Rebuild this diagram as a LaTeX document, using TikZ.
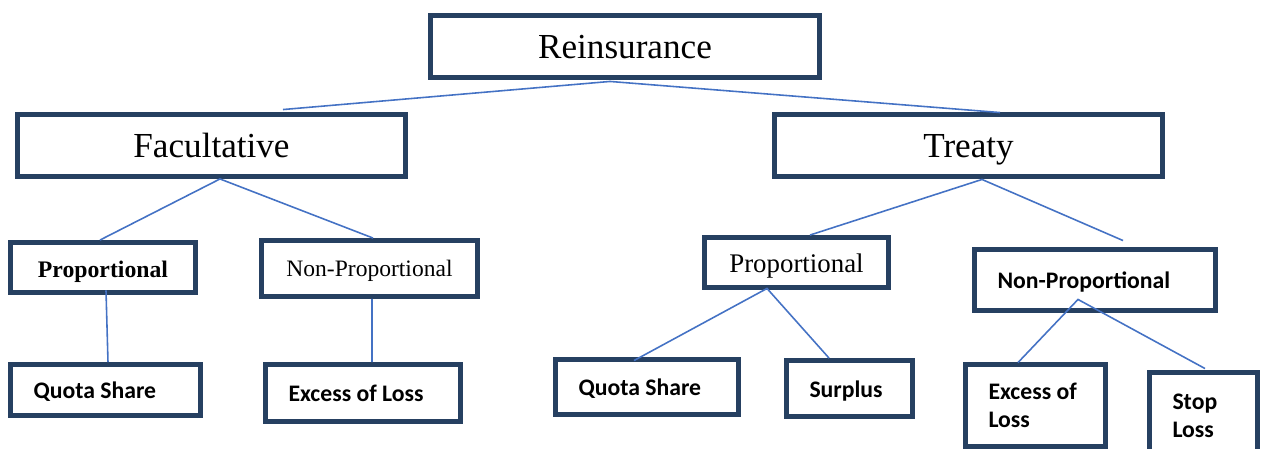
\documentclass[tikz,border=0pt]{standalone}
\usepackage{fontspec}
\setmainfont{Liberation Serif}
\newfontfamily\cajafont{Carlito}
\usetikzlibrary{calc}
\definecolor{borde}{RGB}{38,64,97}
\definecolor{rama}{RGB}{68,114,196}

\begin{document}
\begin{tikzpicture}[x=0.02cm, y=-0.02cm,
    caja/.style={draw=borde, line width=2.8pt, fill=white, inner sep=0pt},
    titulo/.style={font=\fontsize{20}{24}\selectfont, text height=13.7pt, text depth=0pt},
    serifa/.style={text height=11pt, text depth=0pt},
    negra/.style={font=\cajafont\bfseries\fontsize{13.5}{16}\selectfont, text height=10pt, text depth=0pt,
        align=flush left, inner xsep=0.46cm, text width=#1},
    negrados/.style={font=\cajafont\bfseries\fontsize{13.5}{16}\selectfont, align=flush left, inner xsep=0.46cm, text width=#1},
    union/.style={draw=rama, line width=0.9pt}]

    \useasboundingbox (0,0) rectangle (1261,449);

    % Reaseguro
    \node[caja, titulo, minimum width=7.78cm, minimum height=1.24cm] (reins) at (625,46.5) {Reinsurance};

    % Facultativo y tratado
    \node[caja, titulo, minimum width=7.76cm, minimum height=1.24cm] (fac) at (211.5,145.5) {Facultative};
    \node[caja, titulo, minimum width=7.76cm, minimum height=1.24cm] (treaty) at (968.5,145.5) {Treaty};

    % Rama facultativa
    \node[caja, serifa, font=\bfseries\fontsize{13.5}{16}\selectfont, minimum width=3.7cm, minimum height=1.0cm] (facprop) at (103,267.5) {Proportional};
    \node[caja, serifa, text height=9pt, font=\fontsize{13.4}{16}\selectfont, minimum width=4.32cm, minimum height=1.12cm] (facnon) at (369.5,268.5) {Non-Proportional};
    \node[caja, negra=2.88cm, minimum width=3.8cm, minimum height=1.02cm] (facquota) at (105.5,390) {Quota Share};
    \node[caja, negra=2.98cm, minimum width=3.9cm, minimum height=1.14cm] (facexcess) at (363,393) {Excess of Loss};

    % Rama del tratado
    \node[caja, serifa, font=\fontsize{15.3}{18}\selectfont, minimum width=3.68cm, minimum height=1.0cm] (trprop) at (796.5,262.5) {Proportional};
    \node[caja, negra=3.9cm, minimum width=4.82cm, minimum height=1.22cm] (trnon) at (1095,280) {Non-Proportional};
    \node[caja, negra=2.74cm, minimum width=3.66cm, minimum height=1.1cm] (trquota) at (647,387) {Quota Share};
    \node[caja, negra=1.6cm, minimum width=2.52cm, minimum height=1.12cm] (surplus) at (849.5,388.5) {Surplus};
    \node[caja, negrados=1.88cm, minimum width=2.8cm, minimum height=1.64cm] (trexcess) at (1035.5,405.5) {Excess of\\Loss};
    \node[caja, negrados=1.24cm, minimum width=2.16cm, minimum height=1.74cm] (stop) at (1203.5,416) {Stop\\Loss};

    % Lineas
    \draw[union] ($(fac.north)+(71.5,-2.5)$) -- ($(reins.south)+(-15,1.5)$) -- ($(treaty.north)+(31.5,0.5)$);

    \draw[union] ($(facprop.north)+(-3,0)$) -- ($(fac.south)+(8.5,0)$) -- ($(facnon.north)+(3.5,0)$);
    \draw[union] ($(facprop.south)+(3,-4.5)$) -- ($(facquota.north)+(2.5,0)$);
    \draw[union] ($(facnon.south)+(2.5,0)$) -- ($(facexcess.north)+(9,0)$);

    \draw[union] ($(trprop.north)+(13.5,0)$) -- ($(treaty.south)+(13.5,0.5)$) -- ($(trnon.north)+(28,-6.5)$);
    \draw[union] ($(trquota.north)+(-13,3.5)$) -- ($(trprop.south)+(-29.5,-1.5)$) -- ($(surplus.north)+(-20.5,0)$);
    \draw[union] ($(trexcess.north)+(-17.5,0.5)$) -- ($(trnon.south)+(-17,-13.5)$) -- ($(stop.north)+(1.5,-1.5)$);

\end{tikzpicture}
\end{document}
